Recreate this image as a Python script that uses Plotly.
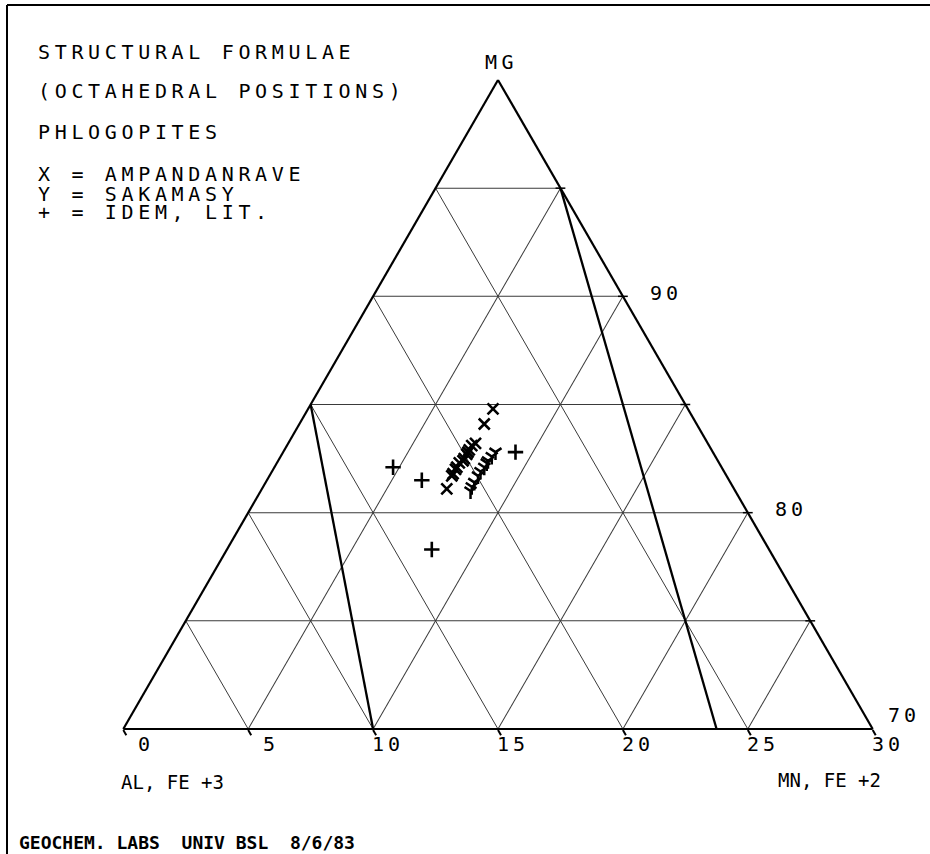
import math
import plotly.graph_objects as go

# ---------------- data ----------------
# X = AMPANDANRAVE
amp_mg = [84.8, 84.1, 83.2, 83.1, 82.9, 82.8, 82.7, 82.5, 82.4, 82.3, 82.1, 82.0, 81.8, 81.7, 81.1]
amp_al = [7.8, 8.5, 9.3, 9.5, 9.7, 9.8, 9.9, 10.1, 10.2, 10.4, 10.6, 10.7, 10.9, 11.0, 11.5]
amp_mn = [7.4, 7.4, 7.5, 7.4, 7.4, 7.4, 7.4, 7.4, 7.4, 7.3, 7.3, 7.3, 7.3, 7.3, 7.4]

# Y = SAKAMASY
sak_mg = [82.8, 82.6, 82.4, 82.3, 82.1, 81.9, 81.7, 81.4, 81.2, 81.0]
sak_al = [8.7, 8.95, 9.2, 9.3, 9.5, 9.75, 9.95, 10.25, 10.45, 10.6]
sak_mn = [8.5, 8.45, 8.4, 8.4, 8.4, 8.35, 8.35, 8.35, 8.35, 8.4]

# + = IDEM, LIT.
lit_mg = [82.8, 82.1, 81.5, 78.3]
lit_al = [7.9, 13.15, 12.3, 13.5]
lit_mn = [9.3, 4.75, 6.2, 8.2]

# reference (thick) lines, end points
ref1_mg = [85, 70]
ref1_al = [15, 20]
ref1_mn = [0, 10]
ref2_mg = [95, 70]
ref2_al = [0, 6.25]
ref2_mn = [5, 23.75]

# tick labels
bottom_ticks = [0, 5, 10, 15, 20, 25, 30]      # MN, FE+2 along the base
right_ticks = [90, 80, 70]                      # MG along the right side

title_lines = ["STRUCTURAL FORMULAE", "(OCTAHEDRAL POSITIONS)", "PHLOGOPITES",
               "X = AMPANDANRAVE", "Y = SAKAMASY", "+ = IDEM, LIT."]
footer = "GEOCHEM. LABS  UNIV BSL  8/6/83"

# ---------------- figure geometry ----------------
W, H = 930, 854
L, R, T, B = 123, 57, 80, 125
PW, PH = W - L - R, H - T - B
MONO = "DejaVu Sans Mono"
AMIN, SUM = 70, 100
SPAN = SUM - AMIN

# same rule plotly uses to fit the ternary triangle inside the plot area
_w_over_h = 2 / math.sqrt(3)
if PW > _w_over_h * PH:
    TRI_H = PH
    TRI_W = TRI_H * _w_over_h
else:
    TRI_W = PW
    TRI_H = TRI_W / _w_over_h
TRI_X0 = L + PW / 2 - TRI_W / 2
TRI_Y0 = T + PH / 2 - TRI_H / 2


def tern_px(a, c):
    fa = (a - AMIN) / SPAN
    fc = c / SPAN
    return TRI_X0 + TRI_W * (fc + fa / 2), TRI_Y0 + TRI_H * (1 - fa)


def px(x):
    return (x - L) / PW


def py(y):
    return (H - B - y) / PH


def sp(text, s):
    return f"<span style='letter-spacing:{s}px'>{text}</span>"


fig = go.Figure()

line_style = dict(color="black", width=2.3)
fig.add_trace(go.Scatterternary(a=ref1_mg, b=ref1_al, c=ref1_mn, mode="lines",
                                line=line_style, hoverinfo="skip", showlegend=False))
fig.add_trace(go.Scatterternary(a=ref2_mg, b=ref2_al, c=ref2_mn, mode="lines",
                                line=line_style, hoverinfo="skip", showlegend=False))

# small ticks on the right side at each MG grid level
rt = [75, 80, 85, 90, 95]
fig.add_trace(go.Scatterternary(a=rt, b=[0] * len(rt), c=[SUM - v for v in rt], mode="markers",
                                marker=dict(symbol="line-ew", size=7, line=dict(color="black", width=1.5)),
                                cliponaxis=False, hoverinfo="skip", showlegend=False))

fig.add_trace(go.Scatterternary(a=amp_mg, b=amp_al, c=amp_mn, mode="markers", name="AMPANDANRAVE",
                                marker=dict(symbol="x-thin", size=11, line=dict(color="black", width=2.6)),
                                showlegend=False))
fig.add_trace(go.Scatterternary(a=sak_mg, b=sak_al, c=sak_mn, mode="markers", name="SAKAMASY",
                                marker=dict(symbol="y-down", size=10, line=dict(color="black", width=2.5)),
                                showlegend=False))
fig.add_trace(go.Scatterternary(a=lit_mg, b=lit_al, c=lit_mn, mode="markers", name="IDEM, LIT.",
                                marker=dict(symbol="cross-thin", size=11, line=dict(color="black", width=2.6)),
                                showlegend=False))

axis_common = dict(showgrid=True, gridcolor="#3a3a3a", gridwidth=0.9, linecolor="black", linewidth=2.2,
                   showticklabels=False, tickmode="linear", tick0=0, dtick=5, title=dict(text=""))
fig.update_layout(
    width=W, height=H,
    margin=dict(l=L, r=R, t=T, b=B),
    paper_bgcolor="white",
    ternary=dict(
        sum=SUM,
        bgcolor="white",
        aaxis=dict(min=AMIN, ticks="", **axis_common),
        baxis=dict(min=0, ticks="outside", ticklen=6, tickwidth=1.5, tickcolor="black", **axis_common),
        caxis=dict(min=0, ticks="", **axis_common),
    ),
    showlegend=False,
)


def note(x, y, text, size=20, xanchor="left", **font_extra):
    return dict(x=px(x), y=py(y), xref="paper", yref="paper", xanchor=xanchor, yanchor="middle",
                text=text, showarrow=False, borderpad=0,
                font=dict(family=MONO, size=size, color="black", **font_extra))


ann = []
# bottom tick labels (MN, FE+2): start at the tick, just below the base
for v in bottom_ticks:
    x, y = tern_px(AMIN, v)
    lab = ("\u2007" if v < 10 else "") + str(v)
    ann.append(note(x - 2, y + 15.5, sp(lab, 4)))
# right side labels (MG)
for v in right_ticks:
    x, y = tern_px(v, SUM - v)
    if v == AMIN:
        ann.append(note(x + 14, y - 14.5, sp(str(v), 4)))
    else:
        ann.append(note(x + 26, y - 3.5, sp(str(v), 4)))

title_y = [52, 91, 132, 174, 194, 212]
for txt, yy in zip(title_lines, title_y):
    ann.append(note(37, yy, sp(txt, 4.66)))
ax, ay = tern_px(SUM, 0)
ann.append(note(ax - 14, ay - 18, sp("MG", 4.5)))
bx, by = tern_px(AMIN, 0)
ann.append(note(bx - 3, by + 53, "AL, FE +3", size=19))
cx, cy = tern_px(AMIN, SPAN)
ann.append(note(cx - 96, cy + 51, "MN, FE +2", size=19))
ann.append(note(18, 842, footer, size=18, weight="bold"))
fig.update_layout(annotations=ann)

# page frame (top and left edges)
fig.add_shape(type="line", xref="paper", yref="paper", x0=px(7), x1=px(930), y0=py(5), y1=py(5),
              line=dict(color="black", width=2))
fig.add_shape(type="line", xref="paper", yref="paper", x0=px(7), x1=px(7), y0=py(5), y1=py(860),
              line=dict(color="black", width=2))

fig.write_html("out.html", config={"displayModeBar": False},
               post_script="document.body.style.margin='0px';")
